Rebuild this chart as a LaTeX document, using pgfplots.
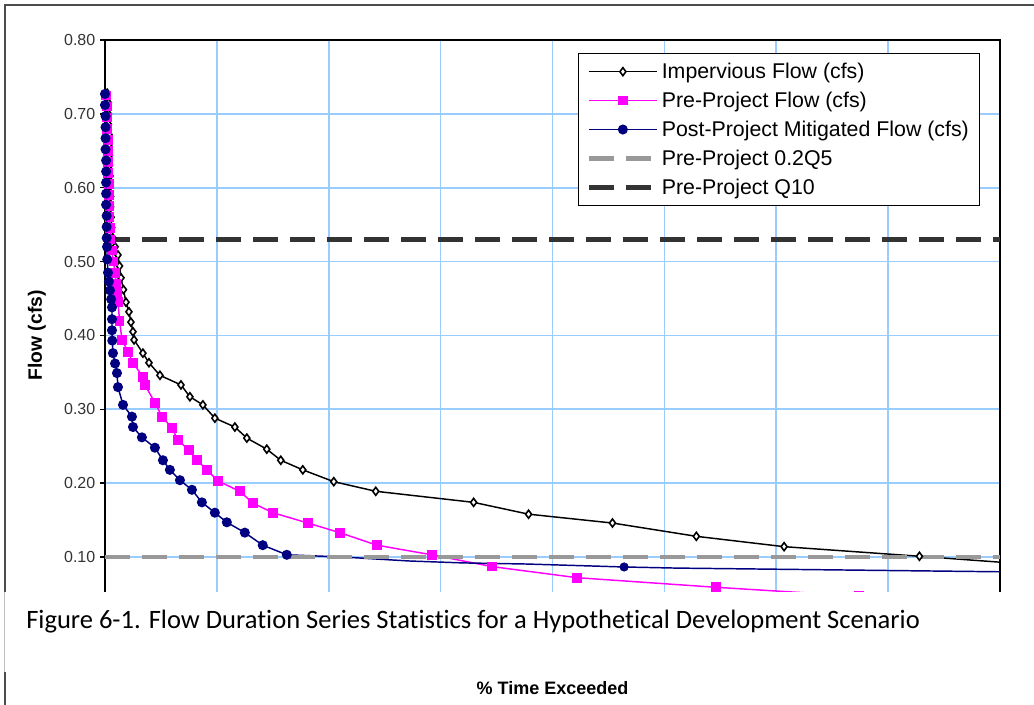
\documentclass[border=0pt]{standalone}
\usepackage{pgfplots}
\pgfplotsset{compat=1.18}
\usepackage{fontspec}
\setmainfont{Liberation Sans}
\newfontfamily\capfont[Ligatures={NoCommon}]{Carlito}
\definecolor{gridblue}{HTML}{99CCFF}
\definecolor{navyb}{HTML}{000080}
\definecolor{mag}{HTML}{FF00FF}
\definecolor{qdark}{HTML}{333333}
\definecolor{qgray}{HTML}{999999}

\pgfplotstableread{
x y
0.02 0.728
0.03 0.715
0.03 0.700
0.03 0.686
0.035 0.672
0.035 0.658
0.04 0.644
0.04 0.630
0.045 0.616
0.045 0.602
0.05 0.588
0.05 0.574
0.055 0.560
0.06 0.546
0.07 0.532
0.09 0.520
0.116 0.509
0.13 0.494
0.143 0.478
0.165 0.462
0.1875 0.445
0.214 0.432
0.232 0.418
0.25 0.405
0.26 0.394
0.339 0.376
0.393 0.363
0.491 0.346
0.679 0.333
0.759 0.317
0.875 0.306
0.982 0.288
1.161 0.276
1.268 0.261
1.446 0.246
1.571 0.231
1.768 0.218
2.045 0.202
2.42 0.189
3.295 0.174
3.786 0.158
4.536 0.146
5.286 0.128
6.07 0.114
7.28 0.101
}\imperv

\pgfplotstableread{
x y
7.28 0.101
8.0 0.093
}\impervtail

\pgfplotstableread{
x y
0.01 0.725
0.015 0.710
0.02 0.695
0.02 0.680
0.025 0.665
0.025 0.650
0.03 0.635
0.03 0.620
0.035 0.605
0.035 0.590
0.04 0.575
0.04 0.560
0.045 0.545
0.05 0.530
0.06 0.515
0.075 0.500
0.09 0.485
0.10 0.470
0.108 0.458
0.116 0.445
0.13 0.420
0.152 0.394
0.205 0.378
0.25 0.363
0.339 0.344
0.357 0.333
0.446 0.309
0.509 0.290
0.598 0.275
0.652 0.258
0.75 0.245
0.821 0.231
0.911 0.218
1.009 0.203
1.205 0.189
1.321 0.173
1.5 0.160
1.813 0.146
2.098 0.133
2.43 0.116
2.92 0.103
3.46 0.087
4.22 0.072
5.46 0.059
6.74 0.047
8.0 0.036
}\preproj

\pgfplotstableread{
x y
0.00 0.727
0.00 0.712
0.005 0.697
0.005 0.682
0.005 0.667
0.005 0.652
0.01 0.637
0.01 0.622
0.01 0.607
0.01 0.592
0.01 0.577
0.015 0.562
0.015 0.547
0.015 0.532
0.018 0.520
0.02 0.503
0.027 0.485
0.035 0.473
0.045 0.461
0.055 0.449
0.0625 0.438
0.0625 0.422
0.0625 0.407
0.065 0.393
0.071 0.376
0.09 0.362
0.107 0.349
0.116 0.330
0.161 0.306
0.241 0.290
0.25 0.276
0.33 0.262
0.446 0.248
0.518 0.231
0.58 0.218
0.67 0.204
0.777 0.191
0.866 0.174
0.982 0.160
1.089 0.147
1.25 0.133
1.41 0.116
1.625 0.103
}\postproj

\pgfplotstableread{
x y
1.625 0.103
2.125 0.100
2.72 0.0946
3.20 0.092
3.77 0.0905
4.64 0.0865
5.11 0.085
8.0 0.080
}\posttail

\begin{document}
\begin{tikzpicture}
\path[use as bounding box, clip] (-78.75pt,-54.855pt) rectangle (696.75pt,473.145pt);
\draw[black!70, line width=1.8pt] (-75pt,-60pt) -- (-75pt,469.4pt) -- (700pt,469.4pt);
\begin{axis}[
  at={(0pt,0pt)}, anchor=south west,
  scale only axis, width=671.25pt, height=443.14pt,
  xmin=0, xmax=8, ymin=0, ymax=0.8,
  clip=false,
  xtick={0,1,...,8}, xticklabels={},
  ytick={0.1,0.2,0.3,0.4,0.5,0.6,0.7,0.8},
  /pgf/number format/assume math mode=true,
  yticklabel style={/pgf/number format/.cd, fixed, fixed zerofill, precision=2, /tikz/.cd,
     font=\fontsize{12}{14}\selectfont, text=black!80},
  tick pos=left, tick align=outside, major tick length=3.75pt,
  tick style={black, line width=1pt},
  grid=major, major grid style={draw=gridblue, line width=1.3pt},
  axis line style={black, line width=1.4pt},
  xlabel={\% Time Exceeded},
  ylabel={Flow (cfs)},
  every axis x label/.style={at={(axis description cs:0.5,-0.0968)}, anchor=center,
     font=\bfseries\fontsize{13.5}{16}\selectfont},
  every axis y label/.style={at={(axis description cs:-0.076,0.5)}, rotate=90, anchor=center,
     font=\bfseries\fontsize{14.5}{17}\selectfont},
  legend style={at={(axis description cs:0.5285,0.978)}, anchor=north west,
     draw=black, line width=0.9pt, fill=white,
     font=\fontsize{16}{18}\selectfont, row sep=4.6pt, inner xsep=6pt, inner ysep=5pt},
  legend cell align=left,
  legend image code/.code={\draw[mark repeat=2,mark phase=2,#1] plot coordinates {(0pt,0pt) (25.5pt,0pt) (51pt,0pt)};},
]
\addplot[black, line width=1.1pt, mark=diamond*, mark size=3pt,
   mark options={fill=white, draw=black, solid, line width=1.2pt}] table {\imperv};
\addlegendentry{Impervious Flow (cfs)}
\addplot[black, line width=1.1pt, forget plot] table {\impervtail};
\addplot[mag, line width=1.1pt, mark=square*, mark size=3.1pt,
   mark options={fill=mag, draw=mag, solid}] table {\preproj};
\addlegendentry{Pre-Project Flow (cfs)}
\addplot[navyb, line width=1.1pt, mark=*, mark size=3.2pt,
   mark options={fill=navyb, draw=navyb, solid}] table {\postproj};
\addlegendentry{Post-Project Mitigated Flow (cfs)}
\addplot[navyb, line width=1.1pt, forget plot] table {\posttail};
\addplot[navyb, only marks, mark=*, mark size=3.2pt, forget plot] coordinates {(4.64,0.0865)};
\addplot[qgray, line width=3.4pt, dash pattern=on 18.75pt off 9pt] coordinates {(0,0.10) (8,0.10)};
\addlegendentry{Pre-Project 0.2Q5}
\addplot[qdark, line width=3.2pt, dash pattern=on 18.75pt off 9pt] coordinates {(0,0.53) (8,0.53)};
\addlegendentry{Pre-Project Q10}
\end{axis}
\fill[white] (-76.5pt,29.1pt) rectangle (700pt,-30.9pt);
\draw[black!25, line width=0.75pt] (-75pt,29.1pt) -- (-75pt,-30.9pt);
\node[anchor=base west, inner sep=0pt, font=\capfont\fontsize{19.9}{24}\selectfont] at (-59.25pt,2.1pt)
  {Figure 6-1. Flow Duration Series Statistics for a Hypothetical Development Scenario};
\end{tikzpicture}
\end{document}
